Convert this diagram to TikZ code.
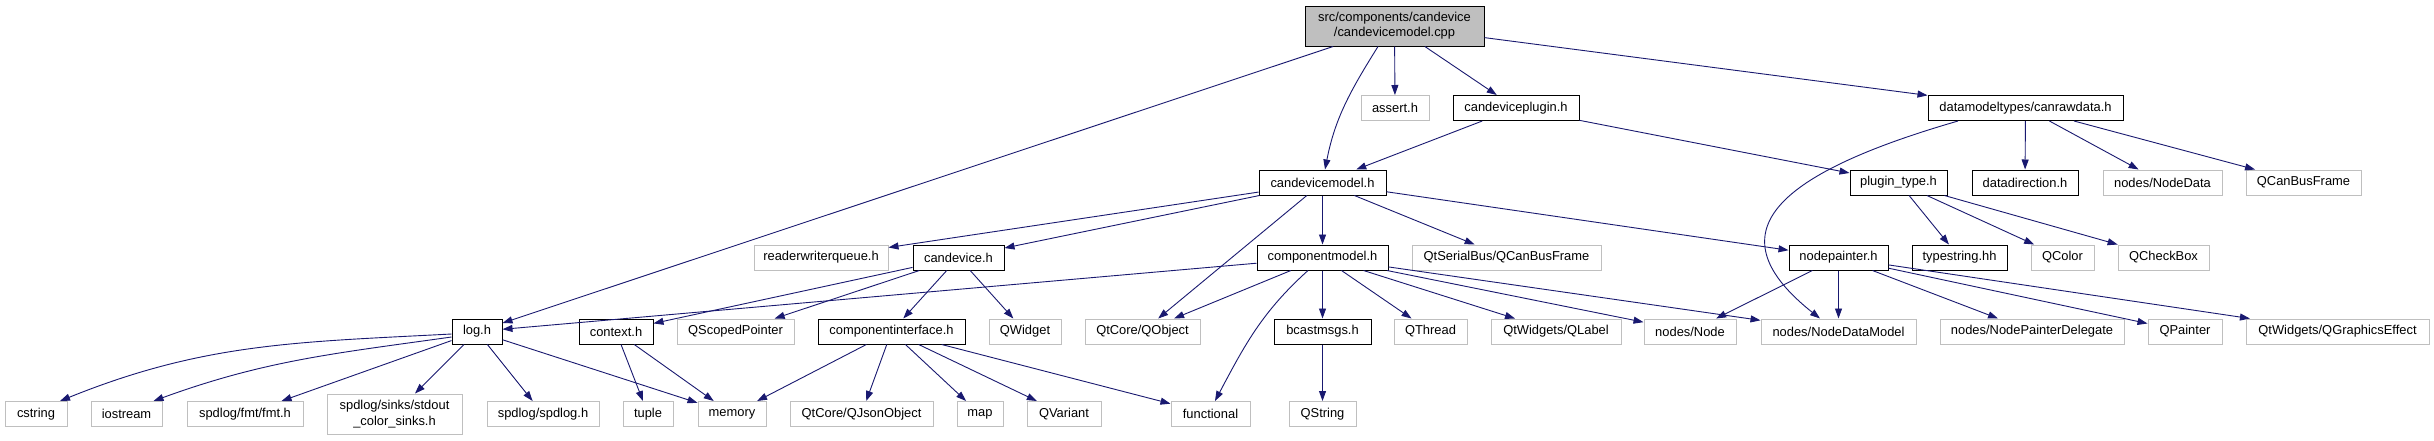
\documentclass[tikz,border=0pt]{standalone}
\usepackage{fontspec}
\setmainfont{Liberation Sans}
\usetikzlibrary{arrows.meta}
\definecolor{edgecol}{HTML}{191970}
\definecolor{greyb}{HTML}{BFBFBF}
\begin{document}
\begin{tikzpicture}[x=1pt,y=1pt,
 every node/.style={inner sep=0pt, font=\fontsize{12.9}{15.3}\selectfont},
 doc/.style={draw=black, line width=1pt, fill=white, minimum height=25pt},
 ext/.style={draw=greyb, line width=1pt, fill=white, minimum height=25pt},
 rootbox/.style={draw=black, line width=1pt, fill=greyb, minimum height=40pt, align=center},
 tallext/.style={draw=greyb, line width=1pt, fill=white, minimum height=40pt, align=center},
 dep/.style={draw=edgecol, line width=0.9pt, -{Triangle[length=10pt,width=7pt]}}
]
\useasboundingbox[fill=white] (0,0) rectangle (2434,-440);
% row 0
\node[rootbox, minimum width=179pt] (root) at (1394.5,-26) {src/components/candevice\\/candevicemodel.cpp};
% row 1
\node[ext, minimum width=68pt] (assert) at (1395,-108) {assert.h};
\node[doc, minimum width=126pt] (plugin) at (1516,-108) {candeviceplugin.h};
\node[doc, minimum width=195pt] (canraw) at (2025.5,-108) {datamodeltypes/canrawdata.h};
% row 2
\node[doc, minimum width=127pt] (cdm) at (1322.5,-182.5) {candevicemodel.h};
\node[doc, minimum width=97pt] (ptype) at (1898.5,-182.5) {plugin\_type.h};
\node[doc, minimum width=106pt] (ddir) at (2025,-182.5) {datadirection.h};
\node[ext, minimum width=119pt] (ndata) at (2162.5,-182.5) {nodes/NodeData};
\node[ext, minimum width=115pt] (qcbf) at (2303.5,-182.5) {QCanBusFrame};
% row 3
\node[ext, minimum width=134pt] (rwq) at (821,-257.5) {readerwriterqueue.h};
\node[doc, minimum width=91pt] (cdev) at (958.5,-257.5) {candevice.h};
\node[doc, minimum width=131pt] (cmodel) at (1322.5,-257.5) {componentmodel.h};
\node[ext, minimum width=189pt] (serial) at (1506.5,-257.5) {QtSerialBus/QCanBusFrame};
\node[doc, minimum width=99pt] (npaint) at (1838.5,-257.5) {nodepainter.h};
\node[doc, minimum width=95pt] (tstr) at (1959.5,-257.5) {typestring.hh};
\node[ext, minimum width=63pt] (qcolor) at (2062.5,-257.5) {QColor};
\node[ext, minimum width=91pt] (qcheck) at (2163.5,-257.5) {QCheckBox};
% row 4
\node[doc, minimum width=50pt] (log) at (477,-331.5) {log.h};
\node[doc, minimum width=74pt] (ctx) at (616,-331.5) {context.h};
\node[ext, minimum width=117pt] (qsp) at (735.5,-331.5) {QScopedPointer};
\node[doc, minimum width=147pt] (ciface) at (891.5,-331.5) {componentinterface.h};
\node[ext, minimum width=72pt] (qwidget) at (1025,-331.5) {QWidget};
\node[ext, minimum width=115pt] (qobj) at (1142.5,-331.5) {QtCore/QObject};
\node[doc, minimum width=97pt] (bcast) at (1322.5,-331.5) {bcastmsgs.h};
\node[ext, minimum width=73pt] (qthread) at (1430.5,-331.5) {QThread};
\node[ext, minimum width=130pt] (qlabel) at (1556,-331.5) {QtWidgets/QLabel};
\node[ext, minimum width=92pt] (nnode) at (1690,-331.5) {nodes/Node};
\node[ext, minimum width=155pt] (ndm) at (1838.5,-331.5) {nodes/NodeDataModel};
\node[ext, minimum width=184pt] (npd) at (2032,-331.5) {nodes/NodePainterDelegate};
\node[ext, minimum width=74pt] (qpainter) at (2185,-331.5) {QPainter};
\node[ext, minimum width=183pt] (qgfx) at (2337.5,-331.5) {QtWidgets/QGraphicsEffect};
% row 5
\node[ext, minimum width=62pt] (cstring) at (36,-414) {cstring};
\node[ext, minimum width=71pt] (iostream) at (126.5,-414) {iostream};
\node[ext, minimum width=116pt] (fmt) at (245,-414) {spdlog/fmt/fmt.h};
\node[tallext, minimum width=135pt] (sinks) at (394.5,-414) {spdlog/sinks/stdout\\\_color\_sinks.h};
\node[ext, minimum width=112pt] (spdlog) at (543,-414) {spdlog/spdlog.h};
\node[ext, minimum width=50pt] (tuple) at (648,-414) {tuple};
\node[ext, minimum width=68pt] (memory) at (732,-414) {memory};
\node[ext, minimum width=143pt] (qjson) at (861.5,-414) {QtCore/QJsonObject};
\node[ext, minimum width=46pt] (map) at (980,-414) {map};
\node[ext, minimum width=74pt] (qvariant) at (1064,-414) {QVariant};
\node[ext, minimum width=79pt] (functional) at (1210.5,-414) {functional};
\node[ext, minimum width=67pt] (qstring) at (1322.5,-414) {QString};
% edges from root
\draw[dep] (root) -- (log);
\draw[dep] ([xshift=-16.5]root.south) to[out=-122, in=79] ([xshift=2.5]cdm.north);
\draw[dep] (root) -- (assert);
\draw[dep] (root) -- (plugin);
\draw[dep] (root) -- (canraw);
% candeviceplugin
\draw[dep] (plugin) -- (cdm);
\draw[dep] (plugin) -- (ptype);
% canrawdata
\draw[dep] ([xshift=-67.5]canraw.south) .. controls (1768,-176) and (1715,-235) .. ([xshift=-18.5]ndm.north);
\draw[dep] (canraw) -- (ddir);
\draw[dep] (canraw) -- (ndata);
\draw[dep] (canraw) -- (qcbf);
% candevicemodel
\draw[dep] (cdm) -- (rwq);
\draw[dep] (cdm) -- (cdev);
\draw[dep] (cdm) -- (cmodel);
\draw[dep] (cdm) -- (serial);
\draw[dep] (cdm) -- (npaint);
\draw[dep] (cdm) -- (qobj);
% plugin_type
\draw[dep] (ptype) -- (tstr);
\draw[dep] (ptype) -- (qcolor);
\draw[dep] (ptype) -- (qcheck);
% componentmodel
\draw[dep] (cmodel) -- (log);
\draw[dep] (cmodel) -- (qobj);
\draw[dep] ([xshift=-14.5]cmodel.south) to[out=-138, in=62] ([xshift=4.5]functional.north);
\draw[dep] (cmodel) -- (bcast);
\draw[dep] (cmodel) -- (qthread);
\draw[dep] (cmodel) -- (qlabel);
\draw[dep] (cmodel) -- (nnode);
\draw[dep] (cmodel) -- (ndm);
% candevice
\draw[dep] (cdev) -- (ctx);
\draw[dep] (cdev) -- (qsp);
\draw[dep] (cdev) -- (ciface);
\draw[dep] (cdev) -- (qwidget);
% nodepainter
\draw[dep] (npaint) -- (nnode);
\draw[dep] (npaint) -- (ndm);
\draw[dep] (npaint) -- (npd);
\draw[dep] (npaint) -- (qpainter);
\draw[dep] (npaint) -- (qgfx);
% bcastmsgs
\draw[dep] (bcast) -- (qstring);
% log
\draw[dep] ([yshift=-2.5]log.west) to[out=183, in=22] ([xshift=24]cstring.north);
\draw[dep] ([yshift=-5.5]log.west) to[out=188, in=20] ([xshift=27]iostream.north);
\draw[dep] (log) -- (fmt);
\draw[dep] (log) -- (sinks);
\draw[dep] (log) -- (spdlog);
\draw[dep] (log) -- (memory);
% context
\draw[dep] (ctx) -- (tuple);
\draw[dep] (ctx) -- (memory);
% componentinterface
\draw[dep] (ciface) -- (memory);
\draw[dep] (ciface) -- (qjson);
\draw[dep] (ciface) -- (map);
\draw[dep] (ciface) -- (qvariant);
\draw[dep] (ciface) -- (functional);
\end{tikzpicture}
\end{document}
